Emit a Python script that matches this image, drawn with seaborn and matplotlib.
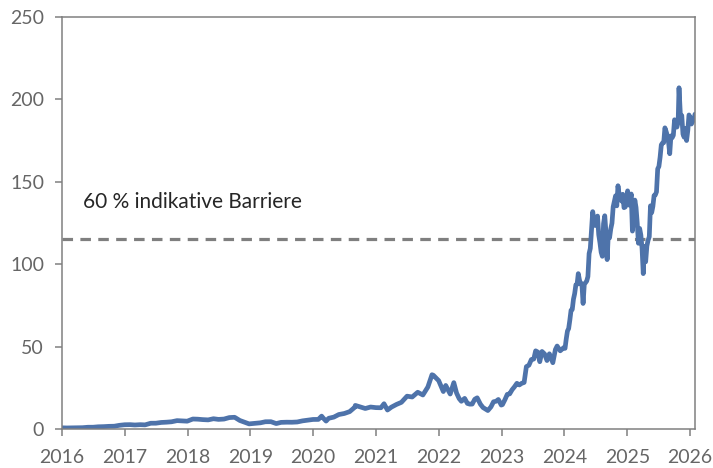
import seaborn as sns
import matplotlib.pyplot as plt
import matplotlib.dates as mdates
import pandas as pd

# Kursverlauf (Schlusskurse, ausgelesen aus der Grafik)
dates_2016_2022 = [
    '2016-01-04', '2016-01-29', '2016-02-29', '2016-03-31', '2016-04-29', '2016-05-31', '2016-06-30',
    '2016-07-29', '2016-08-31', '2016-09-30', '2016-10-31', '2016-11-30', '2016-12-30',
    '2017-01-31', '2017-02-28', '2017-03-31', '2017-04-28', '2017-05-31', '2017-06-30',
    '2017-07-31', '2017-08-31', '2017-09-29', '2017-10-31', '2017-11-30', '2017-12-29',
    '2018-01-31', '2018-02-28', '2018-03-29', '2018-04-30', '2018-05-31', '2018-06-29',
    '2018-07-31', '2018-08-31', '2018-10-01', '2018-10-31', '2018-11-30', '2018-12-24',
    '2019-01-31', '2019-02-28', '2019-03-29', '2019-04-30', '2019-05-31', '2019-06-28',
    '2019-07-31', '2019-08-30', '2019-09-30', '2019-10-31', '2019-11-29', '2019-12-31',
    '2020-01-31', '2020-02-19', '2020-02-28', '2020-03-16', '2020-03-31', '2020-04-30',
    '2020-05-29', '2020-06-30', '2020-07-31', '2020-08-31', '2020-09-02', '2020-09-30',
    '2020-10-30', '2020-11-30', '2020-12-31',
    '2021-01-29', '2021-02-16', '2021-03-08', '2021-03-31', '2021-04-30', '2021-05-28',
    '2021-06-30', '2021-07-30', '2021-08-31', '2021-09-30', '2021-10-29', '2021-11-22',
    '2021-11-30', '2021-12-31',
    '2022-01-27', '2022-02-10', '2022-02-24', '2022-03-08', '2022-03-29', '2022-04-14',
    '2022-04-29', '2022-05-12', '2022-05-31', '2022-06-16', '2022-06-30', '2022-07-14',
    '2022-07-29', '2022-08-12', '2022-08-31', '2022-09-15', '2022-09-30', '2022-10-13',
    '2022-10-31', '2022-11-15', '2022-11-30', '2022-12-13', '2022-12-30',
]
values_2016_2022 = [
    0.80, 0.73, 0.78, 0.89, 0.89, 1.16, 1.17,
    1.43, 1.53, 1.71, 1.78, 2.33, 2.67,
    2.73, 2.53, 2.72, 2.60, 3.59, 3.61,
    4.06, 4.23, 4.47, 5.17, 5.00, 4.84,
    6.15, 6.05, 5.79, 5.62, 6.32, 5.92,
    6.12, 7.02, 7.20, 5.27, 4.08, 3.20,
    3.59, 3.85, 4.49, 4.52, 3.39, 4.11,
    4.22, 4.19, 4.35, 5.03, 5.42, 5.88,
    5.91, 7.90, 6.75, 4.90, 6.59, 7.31,
    8.87, 9.50, 10.62, 13.38, 14.40, 13.53,
    12.53, 13.42, 13.05,
    12.98, 15.40, 11.60, 13.35, 15.01, 16.26,
    20.00, 19.50, 22.38, 20.72, 25.56, 33.00,
    32.67, 29.41,
    22.80, 26.50, 23.70, 21.30, 28.20, 21.90,
    18.55, 16.90, 18.66, 15.60, 15.16, 15.20,
    18.16, 19.00, 15.09, 13.10, 12.14, 11.30,
    13.50, 16.60, 16.92, 18.00, 14.60,
]

dates_2023 = [
    '2023-01-06', '2023-01-20', '2023-02-03', '2023-02-17', '2023-03-03', '2023-03-17',
    '2023-03-31', '2023-04-14', '2023-04-28', '2023-05-12', '2023-05-25', '2023-06-09',
    '2023-06-23', '2023-07-07', '2023-07-18', '2023-07-31', '2023-08-11', '2023-08-24',
    '2023-09-08', '2023-09-22', '2023-10-06', '2023-10-26', '2023-11-10', '2023-11-20',
    '2023-12-08', '2023-12-29',
]
values_2023 = [
    14.9, 17.8, 21.1, 21.4, 23.9, 25.7,
    27.8, 26.8, 27.8, 28.3, 37.9, 38.8,
    42.2, 42.5, 47.5, 46.7, 40.9, 47.1,
    45.6, 41.6, 45.7, 40.3, 48.3, 50.4,
    47.5, 49.5,
]

dates_2024_2026 = pd.date_range('2024-01-05', '2026-01-30', freq='W-FRI').strftime('%Y-%m-%d').tolist()
values_2024_2026 = [
    # 2024
    49.0, 54.7, 59.5, 61.0, 66.2, 72.1, 72.6, 78.8, 82.2, 87.5, 87.8, 94.3, 90.4,
    88.0, 88.1, 76.2, 87.8, 88.8, 89.8, 92.5, 106.5, 109.6, 120.9, 131.9, 126.6,
    123.5, 125.8, 129.2, 117.9, 113.1, 107.3, 104.8, 124.6, 129.4, 119.4, 102.8,
    119.1, 116.0, 121.4, 124.9, 134.8, 138.0, 141.5, 135.4, 147.6, 142.0, 141.9,
    138.3, 142.4, 134.3, 134.7, 137.0,
    # 2025
    144.5, 135.9, 137.7, 142.6, 120.1, 129.8, 138.9, 134.4, 124.9, 112.7, 121.7,
    117.7, 109.7, 94.3, 110.9, 101.5, 111.0, 114.5, 116.7, 135.4, 131.3, 135.1,
    141.7, 142.0, 143.9, 157.8, 159.3, 164.9, 172.4, 173.5, 173.7, 182.7, 180.5,
    178.0, 174.2, 167.0, 177.8, 176.7, 178.2, 187.6, 183.2, 183.2, 186.3, 202.5,
    188.2, 190.2, 178.9, 177.0, 182.4, 175.0, 181.0, 190.5,
    # 2026
    188.9, 185.0, 186.5, 187.5, 191.0,
]

barrier = 115
barrier_label = '60 % indikative Barriere'
year_ticks = list(range(2016, 2027))
y_ticks = [0, 50, 100, 150, 200, 250]

# Peak Ende Oktober 2025 einfuegen
dates_2024_2026.insert(95, '2025-10-29')
values_2024_2026.insert(95, 207.0)

df = pd.DataFrame({
    'Datum': pd.to_datetime(dates_2016_2022 + dates_2023 + dates_2024_2026),
    'Kurs': values_2016_2022 + values_2023 + values_2024_2026,
}).sort_values('Datum')

sns.set_style('ticks')
plt.rcParams['font.family'] = ['Lato', 'DejaVu Sans']

fig, ax = plt.subplots(figsize=(7.13, 4.68), dpi=100)
fig.subplots_adjust(left=0.087, right=0.975, top=0.964, bottom=0.083)

# Barriere unter der Kurslinie
ax.axhline(barrier, color='#7F7F7F', linewidth=2.3, dashes=(3.3, 2.3), zorder=1)
sns.lineplot(data=df, x='Datum', y='Kurs', ax=ax, color='#4E73AA', linewidth=3.4, zorder=2)
ax.text(pd.Timestamp('2016-05-01'), 138, barrier_label, fontsize=15,
        color='#262626', va='center', ha='left')

ax.set_xlim(pd.Timestamp('2016-01-01'), pd.Timestamp('2026-01-31'))
ax.set_ylim(0, 250)
ax.set_xticks([pd.Timestamp(f'{y}-01-01') for y in year_ticks])
ax.xaxis.set_major_formatter(mdates.DateFormatter('%Y'))
ax.set_yticks(y_ticks)

ax.set_xlabel('')
ax.set_ylabel('')
for side in ['left', 'right', 'top', 'bottom']:
    ax.spines[side].set_visible(True)
    ax.spines[side].set_color('#808080')
    ax.spines[side].set_linewidth(1.1)
ax.tick_params(axis='both', direction='out', length=5, width=1.1, color='#808080',
               labelcolor='#666666', labelsize=14)
ax.tick_params(axis='x', pad=9)
ax.tick_params(axis='y', pad=8)

plt.savefig('out.png', dpi=100)
